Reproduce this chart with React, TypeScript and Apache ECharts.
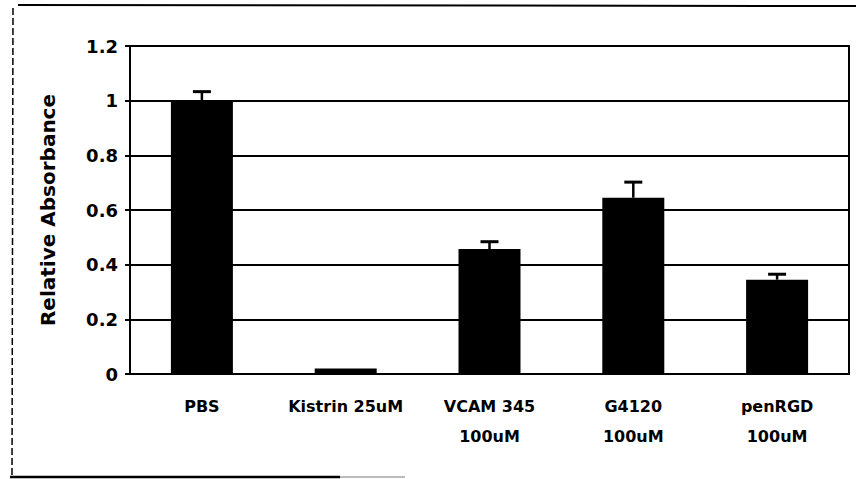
import React, { useEffect, useRef } from "react";
import * as echarts from "echarts";

const categories = ["PBS", "Kistrin 25uM", "VCAM 345\n100uM", "G4120\n100uM", "penRGD\n100uM"];
const values = [1.0, 0.02, 0.457, 0.645, 0.345];
const errors = [0.033, 0, 0.027, 0.057, 0.02];
const yTicks = [0, 0.2, 0.4, 0.6, 0.8, 1, 1.2];

const FONT = "'DejaVu Sans', 'Liberation Sans', Arial, sans-serif";

export default function App() {
  const ref = useRef<HTMLDivElement>(null);
  useEffect(() => {
    if (!ref.current) return;
    const chart = echarts.init(ref.current, undefined, { renderer: "svg" });
    const errData = values.map((v, i) => [i, v, errors[i]]);
    chart.setOption({
      animation: false,
      backgroundColor: "#ffffff",
      grid: {
        left: 130,
        right: 7,
        top: 46,
        bottom: 105,
        show: true,
        borderColor: "#000",
        borderWidth: 2,
        backgroundColor: "transparent",
      },
      xAxis: {
        type: "category",
        data: categories,
        boundaryGap: true,
        axisLine: { show: true, lineStyle: { color: "#000", width: 2 } },
        axisTick: { show: false },
        axisLabel: {
          color: "#000",
          fontFamily: FONT,
          fontWeight: "bold",
          fontSize: 16,
          lineHeight: 30,
          margin: 17,
          interval: 0,
        },
      },
      yAxis: {
        type: "value",
        min: 0,
        max: yTicks[yTicks.length - 1],
        interval: 0.2,
        name: "Relative Absorbance",
        nameLocation: "middle",
        nameGap: 72,
        nameTextStyle: {
          color: "#000",
          fontFamily: FONT,
          fontWeight: "bold",
          fontSize: 20,
        },
        axisLine: { show: true, lineStyle: { color: "#000", width: 2 } },
        axisTick: { show: true, length: 5, lineStyle: { color: "#000", width: 2 } },
        axisLabel: {
          color: "#000",
          fontFamily: FONT,
          fontWeight: "bold",
          fontSize: 18,
          margin: 12,
          formatter: (v: number) => String(Math.round(v * 10) / 10),
        },
        splitLine: { show: true, lineStyle: { color: "#000", width: 2 } },
      },
      series: [
        {
          type: "bar",
          data: values,
          barWidth: 62,
          itemStyle: { color: "#000" },
          z: 2,
        },
        {
          type: "custom",
          data: errData,
          encode: { x: 0, y: 1 },
          z: 3,
          renderItem: (params: any, api: any) => {
            const idx = api.value(0);
            const v = api.value(1);
            const e = api.value(2);
            if (!e) return null;
            const base = api.coord([idx, v]);
            const top = api.coord([idx, v + e]);
            const half = 9;
            return {
              type: "group",
              children: [
                {
                  type: "line",
                  shape: { x1: base[0], y1: base[1], x2: top[0], y2: top[1] },
                  style: { stroke: "#000", lineWidth: 2.5 },
                },
                {
                  type: "line",
                  shape: { x1: top[0] - half, y1: top[1], x2: top[0] + half, y2: top[1] },
                  style: { stroke: "#000", lineWidth: 3 },
                },
              ],
            };
          },
        },
      ],
      graphic: [
        {
          type: "line",
          shape: { x1: 18, y1: 5, x2: 856, y2: 6 },
          style: { stroke: "#000", lineWidth: 2 },
        },
        {
          type: "line",
          shape: { x1: 13, y1: 8, x2: 12, y2: 477 },
          style: { stroke: "#000", lineWidth: 1.5, lineDash: [7, 3] },
        },
        {
          type: "line",
          shape: { x1: 10, y1: 477, x2: 340, y2: 477 },
          style: { stroke: "#000", lineWidth: 2.5 },
        },
        {
          type: "line",
          shape: { x1: 340, y1: 477, x2: 405, y2: 477 },
          style: { stroke: "#bbb", lineWidth: 2 },
        },
      ],
    });
    return () => chart.dispose();
  }, []);
  return (
    <div
      ref={ref}
      style={{ position: "fixed", left: 0, top: 0, width: 856, height: 479, background: "#fff" }}
    />
  );
}
